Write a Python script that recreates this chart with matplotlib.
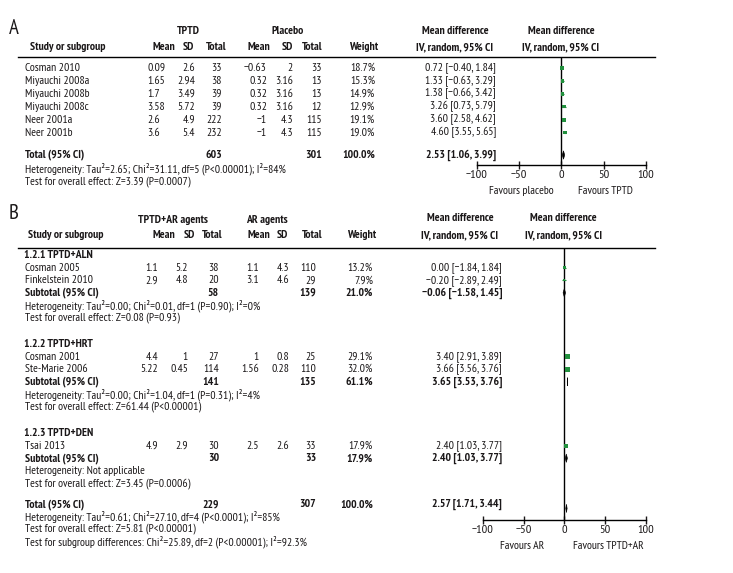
import matplotlib
matplotlib.use("Agg")
import matplotlib.pyplot as plt
from matplotlib import font_manager as fm
import numpy as np

# ---------------- data: panel A ----------------
studies_a = ["Cosman 2010", "Miyauchi 2008a", "Miyauchi 2008b", "Miyauchi 2008c", "Neer 2001a", "Neer 2001b"]
tptd_mean = [0.09, 1.65, 1.7, 3.58, 2.6, 3.6]
tptd_sd = [2.6, 2.94, 3.49, 5.72, 4.9, 5.4]
tptd_n = [33, 38, 39, 39, 222, 232]
plc_mean = [-0.63, 0.32, 0.32, 0.32, -1, -1]
plc_sd = [2, 3.16, 3.16, 3.16, 4.3, 4.3]
plc_n = [33, 13, 13, 12, 115, 115]
weight_a = [18.7, 15.3, 14.9, 12.9, 19.1, 19.0]
md_a = [0.72, 1.33, 1.38, 3.26, 3.60, 4.60]
lo_a = [-0.40, -0.63, -0.66, 0.73, 2.58, 3.55]
hi_a = [1.84, 3.29, 3.42, 5.79, 4.62, 5.65]
total_a_n = [603, 301]
total_a_md = [2.53, 1.06, 3.99]
notes_a = ["Heterogeneity: Tau\u00b2=2.65; Chi\u00b2=31.11, df=5 (P<0.00001); I\u00b2=84%",
           "Test for overall effect: Z=3.39 (P=0.0007)"]

# ---------------- data: panel B ----------------
group_titles = ["1.2.1 TPTD+ALN", "1.2.2 TPTD+HRT", "1.2.3 TPTD+DEN"]
studies_b = [["Cosman 2005", "Finkelstein 2010"], ["Cosman 2001", "Ste-Marie 2006"], ["Tsai 2013"]]
comb_mean = [[1.1, 2.9], [4.4, 5.22], [4.9]]
comb_sd = [[5.2, 4.8], [1, 0.45], [2.9]]
comb_n = [[38, 20], [27, 114], [30]]
ar_mean = [[1.1, 3.1], [1, 1.56], [2.5]]
ar_sd = [[4.3, 4.6], [0.8, 0.28], [2.6]]
ar_n = [[110, 29], [25, 110], [33]]
weight_b = [[13.2, 7.9], [29.1, 32.0], [17.9]]
md_b = [[0.00, -0.20], [3.40, 3.66], [2.40]]
lo_b = [[-1.84, -2.89], [2.91, 3.56], [1.03]]
hi_b = [[1.84, 2.49], [3.89, 3.76], [3.77]]
sub_n = [[58, 139], [141, 135], [30, 33]]
sub_weight = [21.0, 61.1, 17.9]
sub_md = [[-0.06, -1.58, 1.45], [3.65, 3.53, 3.76], [2.40, 1.03, 3.77]]
sub_notes = [["Heterogeneity: Tau\u00b2=0.00; Chi\u00b2=0.01, df=1 (P=0.90); I\u00b2=0%",
              "Test for overall effect: Z=0.08 (P=0.93)"],
             ["Heterogeneity: Tau\u00b2=0.00; Chi\u00b2=1.04, df=1 (P=0.31); I\u00b2=4%",
              "Test for overall effect: Z=61.44 (P<0.00001)"],
             ["Heterogeneity: Not applicable",
              "Test for overall effect: Z=3.45 (P=0.0006)"]]
total_b_n = [229, 307]
total_b_md = [2.57, 1.71, 3.44]
notes_b = ["Heterogeneity: Tau\u00b2=0.61; Chi\u00b2=27.10, df=4 (P<0.0001); I\u00b2=85%",
           "Test for overall effect: Z=5.81 (P<0.00001)",
           "Test for subgroup differences: Chi\u00b2=25.89, df=2 (P<0.00001); I\u00b2=92.3%"]
ticks = [-100, -50, 0, 50, 100]

# ---------------- style ----------------
avail = {f.name for f in fm.fontManager.ttflist}
fam = [f for f in ["PT Sans Narrow", "Liberation Sans Narrow", "IBM Plex Sans Condensed"] if f in avail][:1] + ["DejaVu Sans"]
plt.rcParams["font.family"] = fam
FS = 8.4
TXT = "#1a1718"
GREEN = "#22903e"
W, H = 733, 573

fig = plt.figure(figsize=(W / 100, H / 100), dpi=100)
bg = fig.add_axes([0, 0, 1, 1])
bg.set_xlim(0, W)
bg.set_ylim(H, 0)
bg.axis("off")


def fmt(v):
    return f"{v:g}".replace("-", "\u2212")


def fmd(m, l, h):
    return f"{m:.2f} [{l:.2f}, {h:.2f}]".replace("-", "\u2212")


def t(x, y, s, ha="left", bold=False, size=FS):
    bg.text(x, y, s, ha=ha, va="center", fontsize=size, color=TXT,
            fontweight="bold" if bold else "normal")


def forest_axes(x0, x1, ytop, ybot):
    ax = fig.add_axes([x0 / W, 1 - ybot / H, (x1 - x0) / W, (ybot - ytop) / H])
    ax.set_xlim(-100, 100)
    ax.set_ylim(ybot, ytop)
    ax.patch.set_alpha(0)
    for s in ["top", "right", "left"]:
        ax.spines[s].set_visible(False)
    ax.spines["bottom"].set_linewidth(1.0)
    ax.set_yticks([])
    ax.set_xticks(ticks)
    ax.tick_params(axis="x", direction="inout", length=6, width=1, labelsize=FS + 0.4, pad=0.5, colors=TXT)
    ax.axvline(0, color="black", lw=1.0)
    return ax


def square_size(w):
    side_px = 0.9 * np.sqrt(w)
    return (side_px * 72 / 100) ** 2


def diamond(ax, y, m, l, h, hh=4.2):
    ax.fill([l, m, h, m], [y, y - hh, y, y + hh], color="black", lw=0.4, ec="black")


# ================= Panel A =================
t(9, 28.5, "A", size=15)
t(188, 31, "TPTD", ha="center", bold=True)
t(288, 31, "Placebo", ha="center", bold=True)
t(455, 31, "Mean difference", ha="center", bold=True)
t(561, 31, "Mean difference", ha="center", bold=True)
yh = 47
t(30, yh, "Study or subgroup", bold=True)
for x, s in [(175, "Mean"), (194, "SD"), (227, "Total"), (270, "Mean"), (293, "SD"), (323, "Total"), (378, "Weight")]:
    t(x, yh, s, ha="right", bold=True)
t(455, yh, "IV, random, 95% CI", ha="center", bold=True)
t(561, yh, "IV, random, 95% CI", ha="center", bold=True)
bg.plot([18, 655], [57, 57], color="black", lw=1.0)

axA = forest_axes(476.7, 646, 57, 165)
rows_a = [68 + 12.9 * i for i in range(len(studies_a))]
for i, y in enumerate(rows_a):
    t(25, y, studies_a[i])
    t(147, y, fmt(tptd_mean[i]))
    t(195, y, fmt(tptd_sd[i]), ha="right")
    t(222, y, fmt(tptd_n[i]), ha="right")
    t(267, y, fmt(plc_mean[i]), ha="right")
    t(293, y, fmt(plc_sd[i]), ha="right")
    t(322, y, fmt(plc_n[i]), ha="right")
    t(375, y, f"{weight_a[i]:.1f}%", ha="right")
    t(496, y, fmd(md_a[i], lo_a[i], hi_a[i]), ha="right")
axA.hlines(rows_a, lo_a, hi_a, color=GREEN, lw=0.8)
axA.scatter(md_a, rows_a, s=[square_size(w) for w in weight_a], marker="s", color=GREEN, lw=0, zorder=3)
yt = 155
t(25, yt, "Total (95% CI)", bold=True)
t(222, yt, str(total_a_n[0]), ha="right", bold=True)
t(322, yt, str(total_a_n[1]), ha="right", bold=True)
t(375, yt, "100.0%", ha="right", bold=True)
t(496, yt, fmd(*total_a_md), ha="right", bold=True)
diamond(axA, yt, *total_a_md)
t(25, 168.5, notes_a[0])
t(25, 181.5, notes_a[1])
t(521, 191, "Favours placebo", ha="center")
t(605, 191, "Favours TPTD", ha="center")

# ================= Panel B =================
t(9, 213.5, "B", size=15)
t(173, 220, "TPTD+AR agents", ha="center", bold=True)
t(267, 220, "AR agents", ha="center", bold=True)
t(460, 218, "Mean difference", ha="center", bold=True)
t(563.5, 218, "Mean difference", ha="center", bold=True)
yh = 235
t(28, yh, "Study or subgroup", bold=True)
for x, s in [(175, "Mean"), (195, "SD"), (223, "Total"), (270, "Mean"), (288, "SD"), (322, "Total"), (376, "Weight")]:
    t(x, yh, s, ha="right", bold=True)
t(460, yh, "IV, random, 95% CI", ha="center", bold=True)
t(563.5, yh, "IV, random, 95% CI", ha="center", bold=True)
bg.plot([18, 655], [248, 248], color="black", lw=1.0)

axB = forest_axes(482.7, 646, 248, 520)
dy = 12.6
y = 255
for g in range(len(group_titles)):
    t(24, y, group_titles[g], bold=True)
    y += dy
    ys = []
    for i in range(len(studies_b[g])):
        t(25, y, studies_b[g][i])
        t(158, y, fmt(comb_mean[g][i]), ha="right")
        t(188, y, fmt(comb_sd[g][i]), ha="right")
        t(219, y, fmt(comb_n[g][i]), ha="right")
        t(259, y, fmt(ar_mean[g][i]), ha="right")
        t(289, y, fmt(ar_sd[g][i]), ha="right")
        t(316, y, fmt(ar_n[g][i]), ha="right")
        t(373, y, f"{weight_b[g][i]:.1f}%", ha="right")
        t(502, y, fmd(md_b[g][i], lo_b[g][i], hi_b[g][i]), ha="right")
        ys.append(y)
        y += dy
    axB.hlines(ys, lo_b[g], hi_b[g], color=GREEN, lw=0.8)
    axB.scatter(md_b[g], ys, s=[square_size(w) for w in weight_b[g]], marker="s", color=GREEN, lw=0, zorder=3)
    t(25, y, "Subtotal (95% CI)", bold=True)
    t(219, y, str(sub_n[g][0]), ha="right", bold=True)
    t(316, y, str(sub_n[g][1]), ha="right", bold=True)
    t(373, y, f"{sub_weight[g]:.1f}%", ha="right", bold=True)
    t(502, y, fmd(*sub_md[g]), ha="right", bold=True)
    diamond(axB, y, *sub_md[g])
    y += dy
    t(25, y, sub_notes[g][0])
    y += dy
    t(25, y, sub_notes[g][1])
    y += 26 if g < len(group_titles) - 1 else 21
t(25, y, "Total (95% CI)", bold=True)
t(219, y, str(total_b_n[0]), ha="right", bold=True)
t(316, y, str(total_b_n[1]), ha="right", bold=True)
t(373, y, "100.0%", ha="right", bold=True)
t(502, y, fmd(*total_b_md), ha="right", bold=True)
diamond(axB, y + 4, *total_b_md)
for k, s in enumerate(notes_b):
    t(25, y + 12.3 * (k + 1), s)
t(522, 546, "Favours AR", ha="center")
t(608, 546, "Favours TPTD+AR", ha="center")

fig.savefig("out.png", dpi=100, facecolor="white")
